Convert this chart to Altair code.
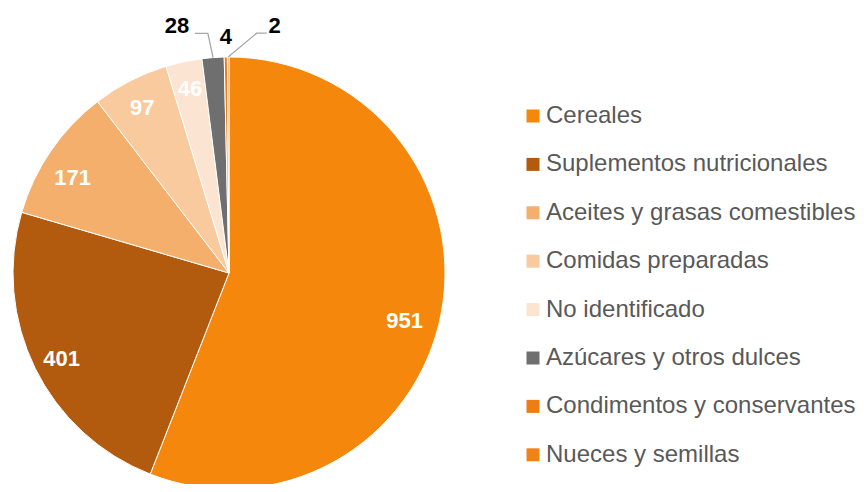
import math
import altair as alt
import pandas as pd

categories = ["Cereales", "Suplementos nutricionales", "Aceites y grasas comestibles",
              "Comidas preparadas", "No identificado", "Azúcares y otros dulces",
              "Condimentos y conservantes", "Nueces y semillas"]
values = [951, 401, 171, 97, 46, 28, 4, 2]
colors = ["#F5870C", "#B25A0E", "#F4AF6C", "#F8CA9E", "#FBE4D1", "#6F6F6F", "#EF7D14", "#F0821A"]

# layout (plot-area pixels)
W, H = 850, 476
CX, CY, R = 221, 265, 216
FONT = "Liberation Sans"

total = sum(values)
cum = []
s = 0
for v in values:
    cum.append(s + v / 2)
    s += v

# label placement: (angle nudge in degrees, radius px, outside?)
place = {
    "Cereales": (4.6, 182, False),
    "Suplementos nutricionales": (-1.0, 188, False),
    "Aceites y grasas comestibles": (-3.1, 183, False),
    "Comidas preparadas": (-0.6, 186, False),
    "No identificado": (0.1, 188, False),
    "Azúcares y otros dulces": (-7.7, 252, True),
    "Condimentos y conservantes": (0.1, 236, True),
    "Nueces y semillas": (10.7, 251, True),
}

df = pd.DataFrame({"cat": categories, "value": values, "idx": list(range(len(values))),
                   "mid": cum})
rows = []
lines = []
for i, c in enumerate(categories):
    dang, r, outside = place[c]
    t = (cum[i] + dang / 360 * total) % total
    rows.append({"cat": c, "label": str(values[i]), "t": t, "r": r, "out": outside})
    if outside and c != "Condimentos y conservantes":
        a_mid = cum[i] / total * 2 * math.pi
        a_lab = t / total * 2 * math.pi
        sx, sy = CX + R * math.sin(a_mid), CY - R * math.cos(a_mid)
        lx, ly = CX + r * math.sin(a_lab), CY - r * math.cos(a_lab)
        if lx < CX:
            ex, bx = lx + 18, lx + 31
        else:
            ex, bx = lx - 8, lx - 18
        ey = ly + 7
        lines += [{"cat": c, "o": 0, "x": ex, "y": ey},
                  {"cat": c, "o": 1, "x": bx, "y": ey},
                  {"cat": c, "o": 2, "x": sx, "y": sy}]
lab = pd.DataFrame(rows)
ldf = pd.DataFrame(lines)

color_scale = alt.Scale(domain=categories, range=colors)

pie = alt.Chart(df).mark_arc(outerRadius=R, stroke="white", strokeWidth=1).encode(
    theta=alt.Theta("value:Q", stack=True),
    color=alt.Color("cat:N", scale=color_scale, sort=categories,
                    legend=alt.Legend(title=None, orient="none", legendX=513, legendY=96,
                                      symbolType="square", symbolSize=169,
                                      symbolStrokeWidth=0, labelFont=FONT,
                                      labelFontSize=24, labelColor="#595959",
                                      labelOffset=1, rowPadding=24.4, padding=0,
                                      labelLimit=400)),
    order=alt.Order("idx:Q"),
    x=alt.value(CX), y=alt.value(CY),
)

inner = alt.Chart(lab).transform_filter("!datum.out").mark_text(
    font=FONT, fontSize=22, fontWeight="bold", color="white", align="center", baseline="middle"
).encode(
    theta=alt.Theta("t:Q", stack=False),
    radius=alt.Radius("r:Q", scale=None),
    text="label:N",
    x=alt.value(CX), y=alt.value(CY),
)

outer = alt.Chart(lab).transform_filter("datum.out").mark_text(
    font=FONT, fontSize=22, fontWeight="bold", color="black", align="center", baseline="middle"
).encode(
    theta=alt.Theta("t:Q", stack=False),
    radius=alt.Radius("r:Q", scale=None),
    text="label:N",
    x=alt.value(CX), y=alt.value(CY),
)

leaders = alt.Chart(ldf).mark_line(color="#A6A6A6", strokeWidth=1.3).encode(
    x=alt.X("x:Q", scale=None),
    y=alt.Y("y:Q", scale=None),
    detail="cat:N",
    order="o:Q",
)

chart = alt.layer(pie, leaders, inner, outer).properties(
    width=W, height=H, autosize=alt.AutoSizeParams(type="none"), padding=0,
    background="white"
).configure_view(stroke=None, strokeWidth=0)

chart.save("out.html", embed_options={"renderer": "svg", "actions": False})
